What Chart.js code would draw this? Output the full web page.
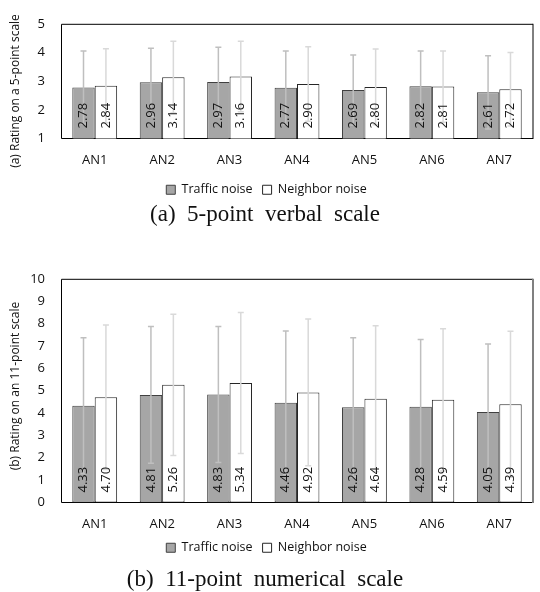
<!DOCTYPE html>
<html>
<head>
<meta charset="utf-8">
<script src="https://cdn.jsdelivr.net/npm/chart.js@4.4.1/dist/chart.umd.min.js"></script>
<style>
  body { margin: 0; background: #fff; }
  #wrap { position: relative; width: 540px; height: 592px; }
  canvas { position: absolute; left: 0; }
  .cap { position: absolute; left: 0; width: 530px; text-align: center; white-space: pre;
         font-family: "Liberation Serif", "DejaVu Serif", serif; font-size: 23px; line-height: 26px; color: #111; }
</style>
</head>
<body>
<div id="wrap">
  <canvas id="chartA" width="540" height="210" style="top:0"></canvas>
  <div class="cap" style="top:201px">(a)  5-point  verbal  scale</div>
  <canvas id="chartB" width="540" height="312" style="top:255px"></canvas>
  <div class="cap" style="top:566px">(b)  11-point  numerical  scale</div>
</div>
<script>
const categories = ["AN1", "AN2", "AN3", "AN4", "AN5", "AN6", "AN7"];
const seriesNames = ["Traffic noise", "Neighbor noise"];

// (a) 5-point verbal scale: means and standard deviations
const trafficA = [2.78, 2.96, 2.97, 2.77, 2.69, 2.82, 2.61];
const neighborA = [2.84, 3.14, 3.16, 2.90, 2.80, 2.81, 2.72];
const trafficSdA = [1.27, 1.19, 1.21, 1.28, 1.22, 1.23, 1.28];
const neighborSdA = [1.29, 1.25, 1.23, 1.30, 1.32, 1.24, 1.28];

// (b) 11-point numerical scale
const trafficB = [4.33, 4.81, 4.83, 4.46, 4.26, 4.28, 4.05];
const neighborB = [4.70, 5.26, 5.34, 4.92, 4.64, 4.59, 4.39];
const trafficSdB = [3.04, 3.06, 3.04, 3.21, 3.11, 3.01, 3.04];
const neighborSdB = [3.23, 3.16, 3.15, 3.28, 3.26, 3.18, 3.26];

const FONT = "'Open Sans', 'Noto Sans', sans-serif";
const TEXT = "#111";

// frame around the plot area
const frame = {
  id: "frame",
  beforeDatasetsDraw(chart, args, opts) {
    const { left, right, top, bottom } = chart.chartArea;
    const c = chart.ctx;
    c.save();
    c.strokeStyle = "#000";
    c.lineWidth = 1;
    c.beginPath();
    c.moveTo(right, top + 0.5);
    c.lineTo(left + 0.5, top + 0.5);
    c.lineTo(left + 0.5, bottom);
    c.lineTo(right, bottom);
    c.stroke();
    c.strokeStyle = opts.rightColor || "#000";
    c.lineWidth = opts.rightWidth || 1;
    c.beginPath();
    c.moveTo(right, top);
    c.lineTo(right, bottom + 0.5);
    c.stroke();
    c.restore();
  }
};

// error bars + rotated value labels inside bars
const barExtras = {
  id: "barExtras",
  afterDatasetsDraw(chart, args, opts) {
    const c = chart.ctx;
    const y = chart.scales.y;
    const bottom = chart.chartArea.bottom;
    c.save();
    chart.data.datasets.forEach((ds, di) => {
      const meta = chart.getDatasetMeta(di);
      meta.data.forEach((bar, i) => {
        const v = ds.data[i], sd = ds.sd[i];
        const yTop = y.getPixelForValue(v + sd);
        const yBot = y.getPixelForValue(Math.max(v - sd, y.min));
        c.strokeStyle = ds.errColor;
        c.lineWidth = 1.5;
        c.beginPath();
        c.moveTo(bar.x, yTop); c.lineTo(bar.x, yBot);
        c.moveTo(bar.x - 3, yTop); c.lineTo(bar.x + 3, yTop);
        if (v - sd > y.min) { c.moveTo(bar.x - 3, yBot); c.lineTo(bar.x + 3, yBot); }
        c.stroke();
      });
    });
    c.fillStyle = TEXT;
    c.font = "13px " + FONT;
    c.textAlign = "left";
    c.textBaseline = "middle";
    chart.data.datasets.forEach((ds, di) => {
      chart.getDatasetMeta(di).data.forEach((bar, i) => {
        c.save();
        c.translate(bar.x, bottom - opts.offset);
        c.rotate(-Math.PI / 2);
        c.fillText(ds.data[i].toFixed(2), 0, 0);
        c.restore();
      });
    });
    c.restore();
  }
};

// vertical axis title placed by hand
const yTitle = {
  id: "yTitle",
  afterDraw(chart, args, opts) {
    const c = chart.ctx;
    c.save();
    c.fillStyle = TEXT;
    c.font = "12px " + FONT;
    c.textAlign = "center";
    c.textBaseline = "middle";
    c.translate(opts.x, opts.y);
    c.rotate(-Math.PI / 2);
    c.fillText(opts.text, 0, 0);
    c.restore();
  }
};

function makeChart(id, cfg) {
  return new Chart(document.getElementById(id), {
    type: "bar",
    data: {
      labels: categories,
      datasets: [
        { label: seriesNames[0], data: cfg.traffic, sd: cfg.trafficSd, errColor: "#bfbfbf",
          backgroundColor: "#a6a6a6", borderColor: "#404040", borderWidth: 1, borderSkipped: false },
        { label: seriesNames[1], data: cfg.neighbor, sd: cfg.neighborSd, errColor: "#d9d9d9",
          backgroundColor: "#ffffff", borderColor: "#262626", borderWidth: 1, borderSkipped: false }
      ]
    },
    options: {
      responsive: false,
      animation: false,
      events: [],
      categoryPercentage: 0.665,
      barPercentage: 1,
      layout: { padding: { top: cfg.padTop, right: 7, bottom: cfg.padBottom, left: 0 } },
      scales: {
        x: {
          grid: { display: false, drawTicks: false },
          border: { display: false },
          ticks: { color: TEXT, font: { family: FONT, size: 13 }, padding: 14 },
          afterFit(s) { s.height = cfg.xHeight; }
        },
        y: {
          min: cfg.min, max: cfg.max,
          grid: { display: false, drawTicks: false },
          border: { display: false },
          ticks: { stepSize: 1, color: TEXT, font: { family: FONT, size: 13 }, padding: 16 },
          afterFit(s) { s.width = 61; }
        }
      },
      plugins: {
        legend: {
          position: "bottom",
          labels: { boxWidth: 9, boxHeight: 9, padding: 10, color: TEXT, font: { family: FONT, size: 12.5 } }
        },
        tooltip: { enabled: false },
        frame: { rightColor: cfg.rightColor, rightWidth: cfg.rightWidth },
        barExtras: { offset: 10 },
        yTitle: { text: cfg.title, x: 16, y: cfg.titleY }
      }
    },
    plugins: [frame, barExtras, yTitle]
  });
}

makeChart("chartA", {
  traffic: trafficA, neighbor: neighborA, trafficSd: trafficSdA, neighborSd: neighborSdA,
  min: 1, max: 5, padTop: 14, padBottom: 4, xHeight: 35,
  title: "(a) Rating on a 5-point scale", titleY: 91, rightColor: "#000", rightWidth: 1
});

makeChart("chartB", {
  traffic: trafficB, neighbor: neighborB, trafficSd: trafficSdB, neighborSd: neighborSdB,
  min: 0, max: 10, padTop: 15, padBottom: 3, xHeight: 29,
  title: "(b) Rating on an 11-point scale", titleY: 131, rightColor: "#808080", rightWidth: 2
});
</script>
</body>
</html>
